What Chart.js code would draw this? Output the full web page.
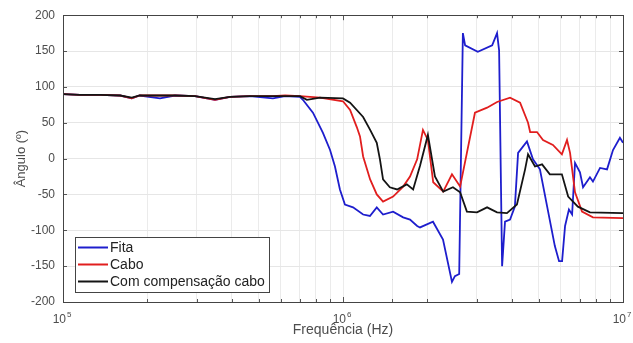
<!DOCTYPE html>
<html>
<head>
<meta charset="utf-8">
<script src="https://cdn.jsdelivr.net/npm/chart.js@4"></script>
<style>
  html, body { margin: 0; padding: 0; background: #fff; }
  #wrap { width: 633px; height: 343px; }
</style>
</head>
<body>
<div id="wrap"><canvas id="angleChart" width="633" height="343"></canvas></div>
<script>
// values (frequency in Hz, angle in degrees)
const seriesNames = ['Fita', 'Cabo', 'Com compensação cabo'];
const seriesColors = ['rgb(30,30,205)', 'rgb(225,30,30)', 'rgb(20,20,20)'];

const fitaFreq = [1e5, 1.15e5, 1.36e5, 1.6e5, 1.76e5, 1.88e5, 2.22e5, 2.51e5, 2.96e5, 3.49e5, 3.95e5, 4.65e5, 5.62e5, 6.21e5, 7.02e5,
  7.19e5, 7.81e5, 8.48e5, 8.99e5, 9.36e5, 9.75e5, 1.016e6, 1.086e6, 1.18e6, 1.248e6, 1.32e6, 1.39e6, 1.51e6, 1.64e6, 1.735e6,
  1.84e6, 1.884e6, 2.096e6, 2.276e6, 2.45e6, 2.51e6, 2.6e6, 2.68e6, 2.73e6, 3.03e6, 3.41e6, 3.55e6, 3.61e6, 3.70e6, 3.79e6,
  3.95e6, 4.11e6, 4.22e6, 4.54e6, 4.77e6, 5.05e6, 5.36e6, 5.71e6, 5.91e6, 6.06e6, 6.21e6, 6.41e6, 6.58e6, 6.74e6, 7.02e6,
  7.2e6, 7.62e6, 7.81e6, 8.28e6, 8.77e6, 9.21e6, 9.75e6, 1e7];
const fitaAngle = [90, 89, 89, 88, 84, 88, 84, 88, 87, 82, 86, 87, 84, 87, 86,
  82, 64, 36, 12, -11, -43, -64, -68, -78, -80, -68, -78, -74, -82, -85,
  -94, -96, -88, -113, -172, -164, -161, 175, 158, 149, 158, 175, 151, -150, -88,
  -85, -67, 8, 24, -1, -15, -67, -122, -143, -143, -94, -71, -78, -6, -19,
  -40, -26, -32, -13, -15, 12, 29, 22];

const caboFreq = [1e5, 1.15e5, 1.36e5, 1.6e5, 1.76e5, 1.88e5, 2.22e5, 2.51e5, 2.96e5, 3.49e5, 3.95e5, 4.65e5, 5.62e5, 6.21e5, 7.02e5,
  8.28e5, 1e6, 1.06e6, 1.12e6, 1.15e6, 1.18e6, 1.25e6, 1.32e6, 1.39e6, 1.51e6, 1.64e6, 1.735e6, 1.84e6, 1.93e6, 2.01e6,
  2.1e6, 2.28e6, 2.45e6, 2.62e6, 2.77e6, 2.96e6, 3.27e6, 3.55e6, 3.95e6, 4.29e6, 4.58e6, 4.66e6, 4.93e6, 5.18e6, 5.62e6,
  6.05e6, 6.31e6, 6.47e6, 6.74e6, 7.14e6, 7.81e6, 1e7];
const caboAngle = [90, 89, 89, 88, 84, 88, 88, 88, 87, 82, 86, 87, 87, 88, 87,
  85, 80, 68, 44, 31, 3, -29, -50, -60, -53, -39, -25, -1, 40, 26,
  -33, -46, -22, -39, 8, 64, 71, 79, 85, 78, 50, 37, 37, 26, 19,
  6, 26, 8, -47, -74, -82, -83];

const compFreq = [1e5, 1.15e5, 1.36e5, 1.6e5, 1.76e5, 1.88e5, 2.22e5, 2.51e5, 2.96e5, 3.49e5, 3.95e5, 4.65e5, 5.62e5, 6.21e5, 7.02e5,
  7.43e5, 8.28e5, 1e6, 1.06e6, 1.18e6, 1.25e6, 1.32e6, 1.355e6, 1.39e6, 1.47e6, 1.56e6, 1.69e6, 1.78e6, 1.884e6, 2.01e6,
  2.13e6, 2.28e6, 2.47e6, 2.62e6, 2.77e6, 3.01e6, 3.27e6, 3.55e6, 3.85e6, 4.18e6, 4.47e6, 4.58e6, 4.85e6, 5.14e6, 5.48e6,
  6.05e6, 6.37e6, 6.9e6, 7.62e6, 1e7];
const compAngle = [90, 89, 89, 88, 85, 88, 88, 88, 87, 83, 86, 87, 87, 87, 87,
  82, 85, 84, 78, 58, 40, 22, -1, -29, -40, -43, -36, -43, -10, 33,
  -25, -46, -40, -47, -74, -75, -68, -75, -76, -64, -15, 6, -11, -8, -22,
  -22, -53, -67, -75, -76];

const xDecades = [1e5, 1e6, 1e7];
const xDecadeExp = ['5', '6', '7'];
const yMin = -200, yMax = 200, yStep = 50;

const FONT = 'Liberation Sans, Arial, sans-serif';
const TEXT = '#4d4d4d';

function toPoints(freq, angle) {
    const pts = [];
    for (let i = 0; i < freq.length; i++) {
        pts.push({ x: freq[i], y: angle[i] });
    }
    return pts;
}

// box, inward ticks, decade labels and legend, drawn the MATLAB way
const matlabLook = {
    id: 'matlabLook',
    afterDraw(chart) {
        const ctx = chart.ctx;
        const a = chart.chartArea;
        const xs = chart.scales.x, ys = chart.scales.y;
        ctx.save();

        // inward ticks
        ctx.strokeStyle = '#555';
        ctx.lineWidth = 1;
        ctx.beginPath();
        for (let v = yMin; v <= yMax; v += yStep) {
            const py = Math.round(ys.getPixelForValue(v)) + 0.5;
            ctx.moveTo(a.left, py); ctx.lineTo(a.left + 4, py);
            ctx.moveTo(a.right, py); ctx.lineTo(a.right - 4, py);
        }
        xs.ticks.forEach(t => {
            const px = Math.round(xs.getPixelForValue(t.value)) + 0.5;
            const len = xDecades.includes(t.value) ? 5 : 3;
            ctx.moveTo(px, a.bottom); ctx.lineTo(px, a.bottom - len);
            ctx.moveTo(px, a.top); ctx.lineTo(px, a.top + len);
        });
        ctx.stroke();

        // frame
        ctx.strokeStyle = '#444';
        ctx.strokeRect(Math.round(a.left) + 0.5, Math.round(a.top) + 0.5,
                       Math.round(a.right - a.left), Math.round(a.bottom - a.top));

        // decade labels 10^n
        ctx.fillStyle = TEXT;
        ctx.textBaseline = 'middle';
        xDecades.forEach((d, i) => {
            const px = xs.getPixelForValue(d);
            ctx.font = '12px ' + FONT;
            ctx.textAlign = 'right';
            ctx.fillText('10', px + 3, a.bottom + 18);
            ctx.font = '8px ' + FONT;
            ctx.textAlign = 'left';
            ctx.fillText(xDecadeExp[i], px + 4, a.bottom + 13);
        });

        // legend, lower left inside the axes
        ctx.font = '14px ' + FONT;
        let tw = 0;
        seriesNames.forEach(n => { tw = Math.max(tw, ctx.measureText(n).width); });
        const bx = a.left + 12, rowH = 17;
        const bw = 36 + tw + 3, bh = rowH * seriesNames.length + 4;
        const by = a.bottom - 10 - bh;
        ctx.fillStyle = '#fff';
        ctx.fillRect(bx, by, bw, bh);
        ctx.strokeStyle = '#444';
        ctx.strokeRect(Math.round(bx) + 0.5, Math.round(by) + 0.5, Math.round(bw), Math.round(bh));
        seriesNames.forEach((n, i) => {
            const ry = by + 2 + rowH * i + rowH / 2;
            ctx.strokeStyle = seriesColors[i];
            ctx.lineWidth = 2;
            ctx.beginPath();
            ctx.moveTo(bx + 3, ry); ctx.lineTo(bx + 33, ry);
            ctx.stroke();
            ctx.fillStyle = '#222';
            ctx.textAlign = 'left';
            ctx.fillText(n, bx + 35, ry + 1);
        });

        ctx.restore();
    }
};

const datasets = [
    { label: seriesNames[0], data: toPoints(fitaFreq, fitaAngle), borderColor: seriesColors[0], order: 2 },
    { label: seriesNames[1], data: toPoints(caboFreq, caboAngle), borderColor: seriesColors[1], order: 1 },
    { label: seriesNames[2], data: toPoints(compFreq, compAngle), borderColor: seriesColors[2], order: 0 }
].map(d => Object.assign(d, { borderWidth: 1.8, pointRadius: 0, tension: 0, fill: false }));

const ctx = document.getElementById('angleChart').getContext('2d');
new Chart(ctx, {
    type: 'line',
    data: { datasets: datasets },
    options: {
        responsive: false,
        animation: false,
        layout: { padding: { top: 15, right: 10, left: 0, bottom: 0 } },
        plugins: { legend: { display: false }, tooltip: { enabled: false } },
        scales: {
            x: {
                type: 'logarithmic',
                min: 1e5,
                max: 1e7,
                border: { display: false },
                grid: { color: '#ebebeb', drawTicks: false },
                ticks: { display: false },
                title: { display: true, text: 'Frequência (Hz)', color: TEXT,
                         font: { family: FONT, size: 14 }, padding: { top: 0, bottom: 4 } },
                afterFit(scale) { scale.height = 41; }
            },
            y: {
                min: yMin,
                max: yMax,
                border: { display: false },
                grid: { color: '#e6e6e6', drawTicks: false },
                ticks: { stepSize: yStep, color: TEXT, padding: 8, font: { family: FONT, size: 12 } },
                title: { display: true, text: 'Ângulo (º)', color: TEXT,
                         font: { family: FONT, size: 13 }, padding: { top: 14, bottom: 0 } },
                afterFit(scale) { scale.width = 63; }
            }
        }
    },
    plugins: [matlabLook]
});
</script>
</body>
</html>
